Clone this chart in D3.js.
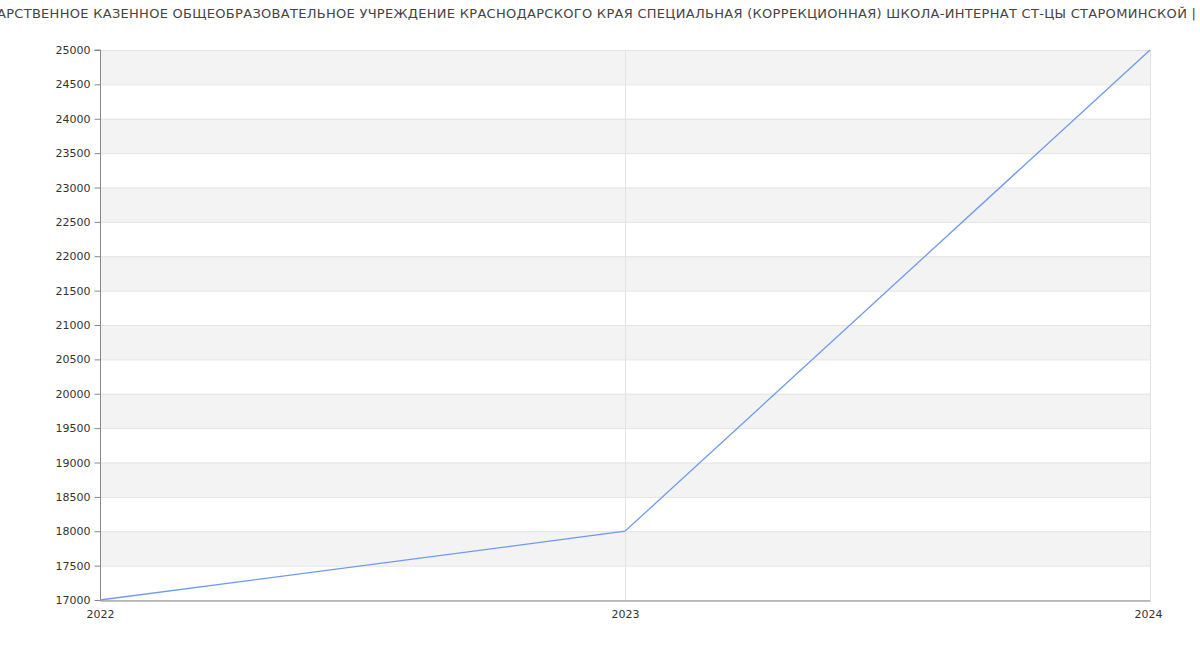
<!DOCTYPE html>
<html><head><meta charset="utf-8">
<script src="https://cdn.jsdelivr.net/npm/d3@7"></script>
<style>body{margin:0;background:#fff;}svg{display:block;font-family:"DejaVu Sans",sans-serif;}</style>
</head><body><svg id="c" width="1200" height="650"></svg>
<script>
const titleHidden = "ГОСУД";
const titleText = "ГОСУДАРСТВЕННОЕ КАЗЕННОЕ ОБЩЕОБРАЗОВАТЕЛЬНОЕ УЧРЕЖДЕНИЕ КРАСНОДАРСКОГО КРАЯ СПЕЦИАЛЬНАЯ (КОРРЕКЦИОННАЯ) ШКОЛА-ИНТЕРНАТ СТ-ЦЫ СТАРОМИНСКОЙ |";
const years = ["2022", "2023", "2024"];
const values = [17000, 18000, 25000];
const yTicks = d3.range(17000, 25001, 500);

const svg = d3.select("#c");
const m = {l:100, r:1150, t:50, b:600};
const x = d3.scalePoint().domain(years).range([m.l, m.r]);
const y = d3.scaleLinear().domain([17000, 25000]).range([m.b, m.t]);

// bands
const bands = yTicks.slice(0, -1).filter((d,i)=> i % 2 === 1);
svg.append("g").selectAll("rect").data(bands).join("rect")
  .attr("x", m.l).attr("width", m.r - m.l)
  .attr("y", d => y(d + 500)).attr("height", d => y(d) - y(d + 500))
  .attr("fill", "#f3f3f3");

// horizontal grid
svg.append("g").selectAll("line").data(yTicks).join("line")
  .attr("x1", m.l).attr("x2", m.r)
  .attr("y1", d => y(d) + 0.5).attr("y2", d => y(d) + 0.5)
  .attr("stroke", "#e3e3e3");
// vertical grid
svg.append("g").selectAll("line").data(years.slice(1)).join("line")
  .attr("x1", d => x(d) + 0.5).attr("x2", d => x(d) + 0.5)
  .attr("y1", m.t).attr("y2", m.b)
  .attr("stroke", "#e3e3e3");

// y axis
const ya = svg.append("g").attr("transform", `translate(${m.l + 0.5},0)`)
  .call(d3.axisLeft(y).tickValues(yTicks).tickSize(6).tickPadding(4).tickFormat(d3.format("d")));
ya.select(".domain").attr("stroke", "#888").attr("d", `M-6,${m.t}H0V${m.b}`);
ya.selectAll(".tick line").attr("stroke", "#888");
ya.selectAll("text").attr("fill", "#333").style("font-size", "11px").style("font-family", "DejaVu Sans");

// x axis
const xa = svg.append("g").attr("transform", `translate(0,${m.b + 0.5})`)
  .call(d3.axisBottom(x).tickSize(0).tickPadding(10));
xa.select(".domain").attr("stroke", "#888");
xa.selectAll("text").attr("fill", "#333").style("font-size", "11px").style("font-family", "DejaVu Sans")
  .attr("dx", (d,i) => i === years.length - 1 ? -2 : 0);

// line
svg.append("path").datum(values)
  .attr("fill", "none").attr("stroke", "#6d9af0").attr("stroke-width", 1.3)
  .attr("d", d3.line().x((d,i) => x(years[i])).y(d => y(d)));

// title
const t = svg.append("text").attr("y", 18).attr("fill", "#444")
  .style("font-size", "13px").style("letter-spacing", "0.29px").text(titleText);
const tmp = svg.append("text").style("font-size", "13px").style("letter-spacing", "0.29px").text(titleHidden);
const hw = tmp.node().getComputedTextLength(); tmp.remove();
t.attr("x", -hw - 3);
</script></body></html>
